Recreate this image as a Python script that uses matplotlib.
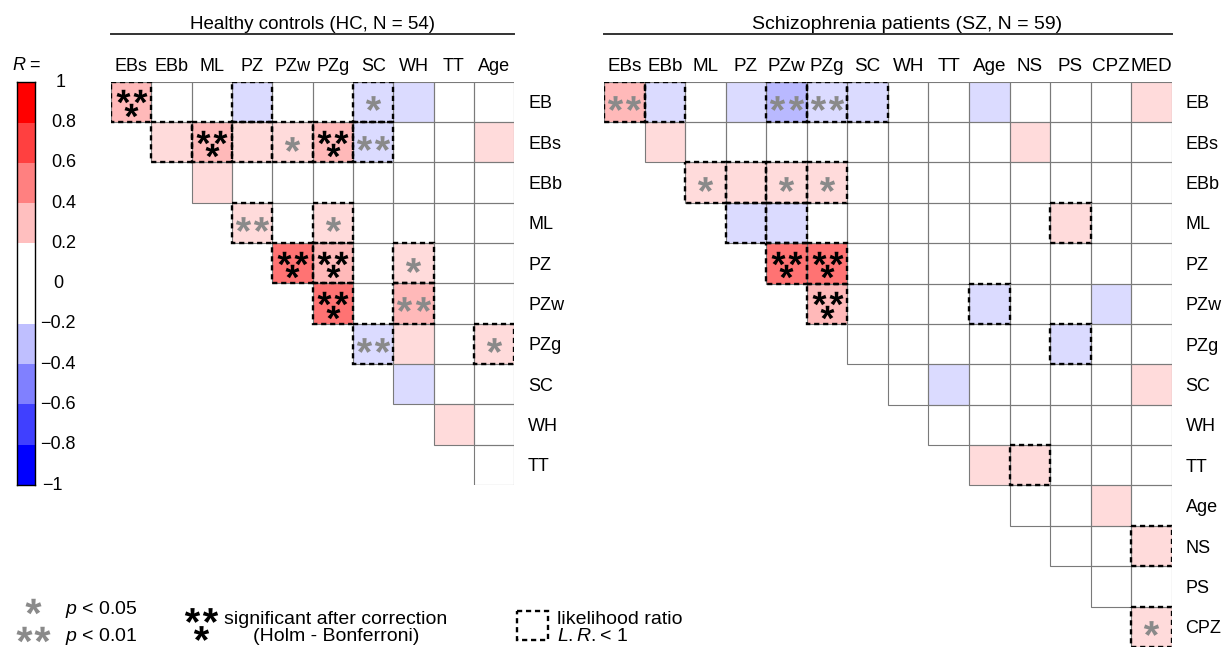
import numpy as np
import matplotlib
matplotlib.use('Agg')
import matplotlib.pyplot as plt
from matplotlib.colors import ListedColormap, BoundaryNorm
from matplotlib.patches import Rectangle
from matplotlib.textpath import TextPath
from matplotlib.font_manager import FontProperties, fontManager
from matplotlib.path import Path
from matplotlib.transforms import blended_transform_factory

W, H = 1231, 649

_names = {f.name for f in fontManager.ttflist}
SANS = 'Liberation Sans' if 'Liberation Sans' in _names else 'DejaVu Sans'
NARROW = 'Liberation Sans Narrow' if 'Liberation Sans Narrow' in _names else SANS
NSCALE = 1.0 if NARROW != SANS else 0.85

plt.rcParams['mathtext.fontset'] = 'custom'
plt.rcParams['mathtext.rm'] = NARROW
plt.rcParams['mathtext.it'] = NARROW + ':italic'

# ---------------- data ----------------
hc_cols = ['EBs', 'EBb', 'ML', 'PZ', 'PZw', 'PZg', 'SC', 'WH', 'TT', 'Age']
hc_rows = ['EB', 'EBs', 'EBb', 'ML', 'PZ', 'PZw', 'PZg', 'SC', 'WH', 'TT']
# row i holds correlations with columns i..end
hc_r = [
    [0.48, 0.05, 0.03, -0.24, 0.08, 0.10, -0.30, -0.22, 0.02, 0.06],
    [0.24, 0.50, 0.26, 0.31, 0.52, -0.37, 0.04, 0.01, 0.22],
    [0.23, 0.05, -0.02, 0.08, 0.03, 0.10, -0.05, 0.02],
    [0.38, 0.12, 0.31, 0.05, 0.09, -0.03, 0.04],
    [0.86, 0.55, 0.02, 0.30, 0.05, 0.00],
    [0.84, 0.06, 0.45, 0.08, 0.03],
    [-0.38, 0.25, 0.10, 0.30],
    [-0.24, 0.05, -0.02],
    [0.23, 0.10],
    [0.06],
]
# 0 = n.s., 1 = p<0.05, 2 = p<0.01, 3 = significant after Holm-Bonferroni
hc_sig = [
    [3, 0, 0, 0, 0, 0, 1, 0, 0, 0],
    [0, 3, 0, 1, 3, 2, 0, 0, 0],
    [0, 0, 0, 0, 0, 0, 0, 0],
    [2, 0, 1, 0, 0, 0, 0],
    [3, 3, 0, 1, 0, 0],
    [3, 0, 2, 0, 0],
    [2, 0, 0, 1],
    [0, 0, 0],
    [0, 0],
    [0],
]
# likelihood ratio L.R. < 1
hc_lr = [
    [1, 0, 0, 1, 0, 0, 1, 0, 0, 0],
    [1, 1, 1, 1, 1, 1, 0, 0, 0],
    [0, 0, 0, 0, 0, 0, 0, 0],
    [1, 0, 1, 0, 0, 0, 0],
    [1, 1, 0, 1, 0, 0],
    [1, 0, 1, 0, 0],
    [1, 0, 0, 1],
    [0, 0, 0],
    [0, 0],
    [0],
]

sz_cols = ['EBs', 'EBb', 'ML', 'PZ', 'PZw', 'PZg', 'SC', 'WH', 'TT', 'Age',
           'NS', 'PS', 'CPZ', 'MED']
sz_rows = ['EB', 'EBs', 'EBb', 'ML', 'PZ', 'PZw', 'PZg', 'SC', 'WH', 'TT',
           'Age', 'NS', 'PS', 'CPZ']
sz_r = [
    [0.42, -0.25, 0.05, -0.22, -0.42, -0.36, -0.26, 0.02, -0.05, -0.22, 0.04, 0.10, 0.00, 0.22],
    [0.23, 0.08, 0.05, 0.10, 0.02, -0.05, 0.03, 0.00, 0.06, 0.22, 0.05, -0.03, 0.10],
    [0.29, 0.24, 0.31, 0.30, 0.08, 0.04, 0.00, -0.06, 0.10, 0.02, 0.05, 0.07],
    [-0.23, -0.22, 0.10, 0.05, 0.03, 0.08, -0.04, 0.10, 0.24, 0.00, 0.05],
    [0.83, 0.82, 0.05, 0.10, 0.00, 0.03, -0.05, 0.08, 0.02, 0.04],
    [0.52, 0.05, 0.10, 0.02, -0.23, 0.08, 0.00, -0.22, 0.03],
    [0.06, 0.02, 0.10, 0.00, 0.05, -0.24, 0.08, 0.03],
    [0.05, -0.22, 0.10, 0.00, 0.04, 0.07, 0.23],
    [0.03, 0.10, 0.05, 0.00, 0.06, 0.02],
    [0.23, 0.24, 0.06, 0.10, 0.04],
    [0.10, 0.05, 0.22, 0.08],
    [0.02, 0.10, 0.24],
    [0.05, 0.00],
    [0.30],
]
sz_sig = [
    [2, 0, 0, 0, 2, 2, 0, 0, 0, 0, 0, 0, 0, 0],
    [0] * 13,
    [1, 0, 1, 1, 0, 0, 0, 0, 0, 0, 0, 0],
    [0] * 11,
    [3, 3, 0, 0, 0, 0, 0, 0, 0, 0],
    [3, 0, 0, 0, 0, 0, 0, 0, 0],
    [0] * 8,
    [0] * 7,
    [0] * 6,
    [0] * 5,
    [0] * 4,
    [0] * 3,
    [0] * 2,
    [1],
]
sz_lr = [
    [1, 1, 0, 0, 1, 1, 1, 0, 0, 0, 0, 0, 0, 0],
    [0] * 13,
    [1, 1, 1, 1, 0, 0, 0, 0, 0, 0, 0, 0],
    [1, 1, 0, 0, 0, 0, 0, 0, 1, 0, 0],
    [1, 1, 0, 0, 0, 0, 0, 0, 0, 0],
    [1, 0, 0, 0, 1, 0, 0, 0, 0],
    [0, 0, 0, 0, 0, 1, 0, 0],
    [0] * 7,
    [0] * 6,
    [0, 1, 0, 0, 0],
    [0] * 4,
    [0, 0, 1],
    [0] * 2,
    [1],
]

cbar_bounds = [-1, -0.8, -0.6, -0.4, -0.2, 0, 0.2, 0.4, 0.6, 0.8, 1]
cbar_labels = ['\u22121', '\u22120.8', '\u22120.6', '\u22120.4', '\u22120.2', '0',
               '0.2', '0.4', '0.6', '0.8', '1']

# ---------------- styles ----------------
bin_colors = ['#0000FF', '#4040FF', '#8080FF', '#BFBFFF', '#FFFFFF',
              '#FFFFFF', '#FFBFBF', '#FF8080', '#FF4040', '#FF0000']
cmap = ListedColormap(bin_colors)
norm = BoundaryNorm(cbar_bounds, cmap.N)
GRAY = '#8a8a8a'
GRID = '#7a7a7a'
DASH = (0, (2.2, 1.6))


def star_path(weight):
    tp = TextPath((0, 0), '*', size=10,
                  prop=FontProperties(family=SANS, weight=weight))
    verts = tp.vertices.copy()
    codes = tp.codes.copy()
    start = 0
    for k, c in enumerate(codes):
        if c == Path.MOVETO:
            start = k
        elif c == Path.CLOSEPOLY:
            verts[k] = verts[start]
    mn, mx = verts.min(0), verts.max(0)
    verts = verts - (mn + mx) / 2
    return Path(verts, codes)


STAR = star_path('bold')


def stars(ax, xs, ys, ms, color):
    ax.plot(xs, ys, ls='none', marker=STAR, ms=ms, mfc=color, mec=color,
            mew=0, zorder=5)


fig = plt.figure(figsize=(W / 100, H / 100), dpi=100)


def px_axes(left, top, right, bottom):
    return fig.add_axes([left / W, 1 - bottom / H, (right - left) / W,
                         (bottom - top) / H])


def draw_matrix(ax, rows, cols, R, SIG, LR, col_family, col_size):
    nr, nc = len(rows), len(cols)
    M = np.full((nr, nc), np.nan)
    for i, vals in enumerate(R):
        M[i, i:i + len(vals)] = vals
    ax.pcolormesh(np.arange(nc + 1), np.arange(nr + 1),
                  np.ma.masked_invalid(M), cmap=cmap, norm=norm,
                  alpha=0.55, edgecolors='none', zorder=1)
    g1x, g1y, g2x, g2y, bx, by = [], [], [], [], [], []
    for i in range(nr):
        for k in range(len(R[i])):
            j = i + k
            ax.add_patch(Rectangle((j, i), 1, 1, fill=False, ec=GRID,
                                   lw=0.8, zorder=2))
            if LR[i][k]:
                ax.add_patch(Rectangle((j, i), 1, 1, fill=False, ec='k',
                                       lw=1.7, ls=DASH, zorder=4))
            s = SIG[i][k]
            cx, cy = j + 0.5, i + 0.5
            if s == 1:
                g1x.append(cx); g1y.append(cy + 0.04)
            elif s == 2:
                g2x += [cx - 0.225, cx + 0.225]; g2y += [cy + 0.02, cy + 0.02]
            elif s == 3:
                bx += [cx - 0.21, cx + 0.21, cx]
                by += [cy - 0.14, cy - 0.14, cy + 0.2]
    stars(ax, g1x, g1y, 11, GRAY)
    stars(ax, g2x, g2y, 11, GRAY)
    stars(ax, bx, by, 10, 'k')
    for j, c in enumerate(cols):
        ax.text(j + 0.5, -0.27, c, ha='center', va='baseline',
                family=col_family, fontsize=col_size)
    for i, r in enumerate(rows):
        ax.text(nc + 0.34, i + 0.66, r, ha='left', va='baseline',
                family=SANS, fontsize=13)
    ax.set_xlim(0, nc)
    ax.set_ylim(nr, 0)
    ax.axis('off')


ax_hc = px_axes(111, 81.7, 514.3, 485)
draw_matrix(ax_hc, hc_rows, hc_cols, hc_r, hc_sig, hc_lr, SANS, 13)

ax_sz = px_axes(604, 81.7, 1171.7, 647)
draw_matrix(ax_sz, sz_rows, sz_cols, sz_r, sz_sig, sz_lr, NARROW, 16 * NSCALE)

# ---------------- colorbar ----------------
cax = px_axes(16.7, 82.3, 35, 485)
b = np.array(cbar_bounds)
centers = (b[:-1] + b[1:]) / 2
cax.pcolormesh([0, 1], b, centers.reshape(-1, 1), cmap=cmap, norm=norm,
               edgecolors='none')
cax.set_xlim(0, 1)
cax.set_ylim(-1, 1)
cax.set_xticks([]); cax.set_yticks([])
for sp in cax.spines.values():
    sp.set_linewidth(1.0)
tr = blended_transform_factory(cax.transAxes, cax.transData)
for v, lab in zip(cbar_bounds, cbar_labels):
    if lab in ('1', '0'):
        x, ha = (61 - 16.7) / 18.3, 'center'
        if lab == '0':
            x = (58 - 16.7) / 18.3
    elif lab == '\u22121':
        x, ha = (63 - 16.7) / 18.3, 'right'
    else:
        x, ha = (76 - 16.7) / 18.3, 'right'
    cax.text(x, v, lab, transform=tr, ha=ha, va='center', family=SANS,
             fontsize=13)

# ---------------- overlay: titles & legend ----------------
lax = fig.add_axes([0, 0, 1, 1])
lax.set_xlim(0, W)
lax.set_ylim(H, 0)
lax.axis('off')

lax.text(12, 70, 'R', style='italic', family=SANS, fontsize=13, va='baseline')
lax.text(29, 70, '=', family=SANS, fontsize=13, va='baseline')

lax.text(312.7, 29, 'Healthy controls (HC, N = 54)', ha='center',
         va='baseline', family=SANS, fontsize=13.5)
lax.plot([111, 514.3], [34.3, 34.3], color='#333333', lw=1.4)
lax.text(907, 29, 'Schizophrenia patients (SZ, N = 59)', ha='center',
         va='baseline', family=NARROW, fontsize=16.5 * NSCALE)
lax.plot([604, 1171.7], [34.3, 34.3], color='#333333', lw=1.4)

LFS = 16.5 * NSCALE
stars(lax, [33], [606], 11.5, GRAY)
stars(lax, [24, 42], [634, 634], 11.5, GRAY)
lax.text(65, 614, r'$\mathit{p}$ < 0.05', family=NARROW, fontsize=LFS,
         va='baseline')
lax.text(65, 641, r'$\mathit{p}$ < 0.01', family=NARROW, fontsize=LFS,
         va='baseline')

stars(lax, [192, 210, 201], [615, 615, 633], 11, 'k')
lax.text(336, 624, 'significant after correction', ha='center',
         va='baseline', family=NARROW, fontsize=LFS)
lax.text(336, 641, '(Holm - Bonferroni)', ha='center', va='baseline',
         family=NARROW, fontsize=LFS)

lax.add_patch(Rectangle((517, 611), 31, 29, fill=False, ec='k', lw=1.7,
                        ls=DASH))
lax.text(557, 624, 'likelihood ratio', ha='left', va='baseline',
         family=NARROW, fontsize=LFS)
lax.text(557, 641, r'$\mathit{L.R.}$< 1', ha='left', va='baseline',
         family=NARROW, fontsize=LFS)

fig.savefig('out.png', dpi=100)
